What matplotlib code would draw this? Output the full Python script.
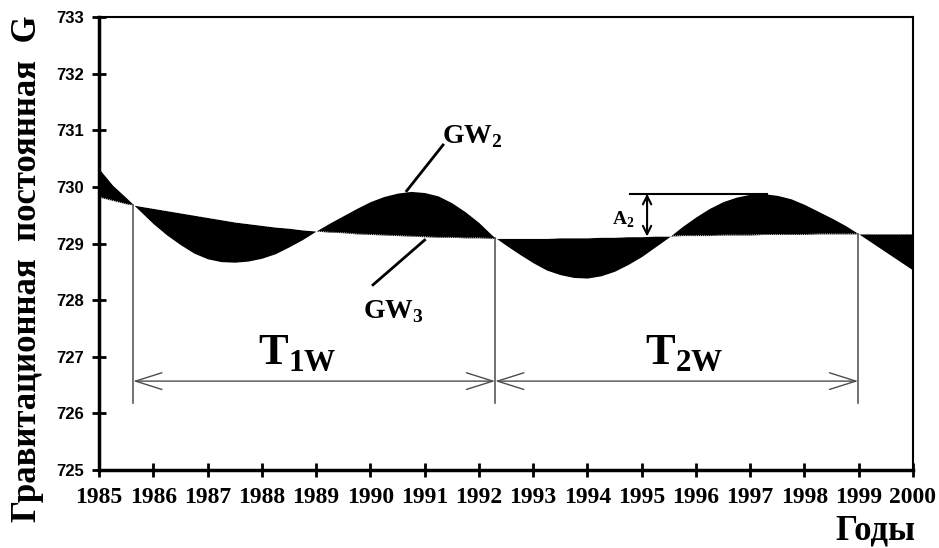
'''
Gravitational constant G: waves GW2 and GW3, periods T1W / T2W and amplitude A2.
'''
import numpy as np
import matplotlib.pyplot as plt

plt.rcParams['mathtext.fontset'] = 'custom'
plt.rcParams['mathtext.rm'] = 'Liberation Serif'
plt.rcParams['mathtext.bf'] = 'Liberation Serif:bold'

SERIF = 'Liberation Serif'
SANS = 'Liberation Sans'

# values, every quarter of a year
years = np.arange(1985, 2000.001, 0.25)
gw2 = [730.32, 730.03, 729.81, 729.58,
       729.35, 729.15, 728.98, 728.83,
       728.73, 728.68, 728.67, 728.69,
       728.74, 728.82, 728.94, 729.07,
       729.22, 729.36, 729.49, 729.62,
       729.74, 729.83, 729.89, 729.92,
       729.90, 729.84, 729.72, 729.56,
       729.37, 729.14, 728.97, 728.81,
       728.66, 728.53, 728.45, 728.40,
       728.39, 728.43, 728.51, 728.63,
       728.77, 728.94, 729.11, 729.30,
       729.47, 729.62, 729.74, 729.82,
       729.87, 729.88, 729.85, 729.79,
       729.69, 729.57, 729.45, 729.32,
       729.17, 729.01, 728.85, 728.69,
       728.53]
gw3 = [729.82, 729.76, 729.70, 729.66,
       729.62, 729.58, 729.54, 729.50,
       729.46, 729.42, 729.38, 729.35,
       729.32, 729.29, 729.27, 729.24,
       729.22, 729.20, 729.19, 729.17,
       729.16, 729.15, 729.14, 729.13,
       729.12, 729.11, 729.11, 729.10,
       729.10, 729.09, 729.09, 729.09,
       729.09, 729.09, 729.10, 729.10,
       729.10, 729.11, 729.11, 729.12,
       729.12, 729.13, 729.13, 729.14,
       729.14, 729.14, 729.15, 729.15,
       729.15, 729.16, 729.16, 729.16,
       729.16, 729.17, 729.17, 729.17,
       729.17, 729.17, 729.17, 729.17,
       729.17]

period_years = [1985.63, 1992.30, 1998.99]
period_labels = [r'$\mathbf{T}_{\mathbf{1W}}$', r'$\mathbf{T}_{\mathbf{2W}}$']
x_ticks = list(range(1985, 2001))
y_ticks = list(range(725, 734))


def main():
    fig = plt.figure(figsize=(9.39, 5.48), dpi=100)
    ax = fig.add_axes([0.1054, 0.1423, 0.8669, 0.8267])

    ax.fill_between(years, gw2, gw3, color='black', lw=0)
    ax.plot(years, gw3, color='white', lw=0.6, ls=(0, (1, 1.5)))

    # period markers
    arrow_y = 726.57
    for yr in period_years:
        top = np.interp(yr, years, gw3)
        ax.plot([yr, yr], [726.18, top], color='0.35', lw=1.2)
    for (a, b), lab, lx in zip(zip(period_years[:-1], period_years[1:]),
                               period_labels, [1987.93, 1995.06]):
        ax.annotate('', xy=(b, arrow_y), xytext=(a, arrow_y),
                    arrowprops=dict(arrowstyle='<->,head_length=1.9,head_width=0.6',
                                    color='0.3', lw=1, shrinkA=0, shrinkB=0))
        ax.text(lx, 726.87, lab, fontsize=32, va='baseline', ha='left')

    # wave labels
    ax.text(1991.32, 730.77, r'$\mathbf{GW}_{\mathbf{2}}$', fontsize=20, va='baseline')
    ax.plot([1991.34, 1990.67], [730.74, 729.93], color='black', lw=2)
    ax.text(1989.86, 727.68, r'$\mathbf{GW}_{\mathbf{3}}$', fontsize=20, va='baseline')
    ax.plot([1990.05, 1991.0], [728.27, 729.06], color='black', lw=2)

    # amplitude A2
    a2_top = max(v for t, v in zip(years, gw2) if t > 1995)
    ax.plot([1994.78, 1997.31], [a2_top, a2_top], color='black', lw=1.5)
    ax.annotate('', xy=(1995.1, a2_top), xytext=(1995.1, np.interp(1995.1, years, gw3)),
                arrowprops=dict(arrowstyle='<->,head_length=0.6,head_width=0.3',
                                color='black', lw=1.5, shrinkA=0, shrinkB=0))
    ax.text(1994.45, 729.33, r'$\mathbf{A}_{\mathbf{2}}$', fontsize=14, va='baseline')

    ax.set_xlim(1985, 2000)
    ax.set_ylim(725, 733)
    ax.set_xticks(x_ticks)
    ax.set_yticks(y_ticks)
    ax.set_xticklabels([str(t) for t in x_ticks], family=SERIF, weight='bold', fontsize=17)
    ax.set_yticklabels([str(t) for t in y_ticks], family=SANS, weight='bold', fontsize=12)
    ax.tick_params(axis='both', direction='inout', length=10, width=2)
    ax.tick_params(axis='y', pad=6)
    ax.tick_params(axis='x', pad=7)
    ax.spines['left'].set_linewidth(2.5)
    ax.spines['bottom'].set_linewidth(2.5)
    ax.spines['top'].set_linewidth(1.5)
    ax.spines['right'].set_linewidth(1.5)

    fig.text(0.029, 0.51, 'Гравитационная  постоянная  G', rotation=90,
             fontsize=25, family=SERIF, weight='bold', ha='center', va='center')
    fig.text(0.975, 0.0, 'Годы', fontsize=25, family=SERIF, weight='bold',
             ha='right', va='bottom')

    fig.savefig('out.png', dpi=100)
    plt.close(fig)


if __name__ == '__main__':
    main()
